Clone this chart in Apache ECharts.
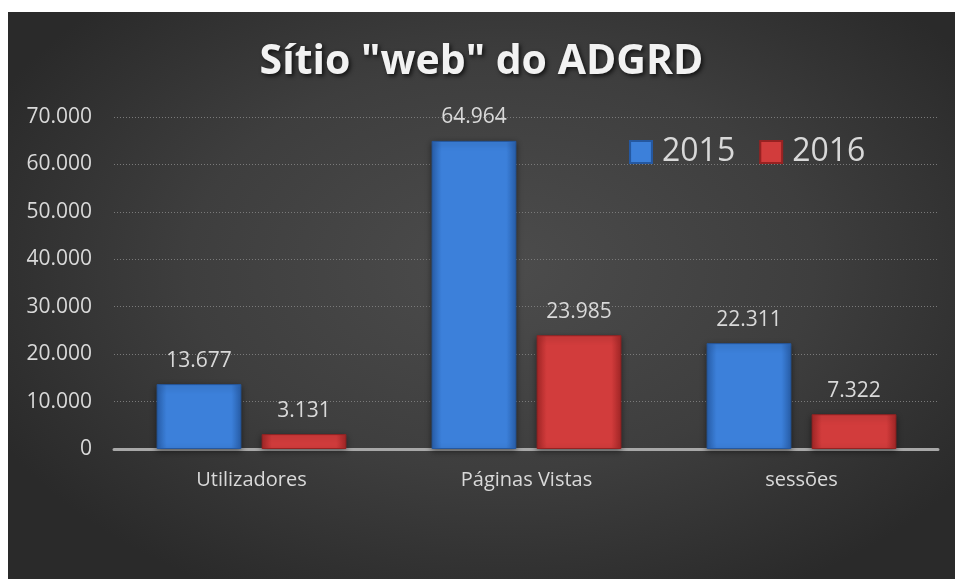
<!DOCTYPE html>
<html>
<head>
<meta charset="utf-8">
<script src="https://cdn.jsdelivr.net/npm/echarts@6/dist/echarts.min.js"></script>
<style>
  html, body { margin: 0; padding: 0; background: #ffffff; }
  #chart {
    position: absolute; left: 8px; top: 12px; width: 947px; height: 567px;
    background: radial-gradient(ellipse 60% 65% at 52% 45%, #4c4c4c 0%, #3e3e3e 55%, #2a2a2a 100%);
  }
</style>
</head>
<body>
<div id="chart"></div>
<script>
var categories = ['Utilizadores', 'Páginas Vistas', 'sessões'];
var values2015 = [13677, 64964, 22311];
var values2016 = [3131, 23985, 7322];
var seriesNames = ['2015', '2016'];

function fmt(v) {
  return String(v).replace(/\B(?=(\d{3})+(?!\d))/g, '.');
}

var font = '"Open Sans", sans-serif';

function barStyle(edge, mid, border) {
  return {
    color: new echarts.graphic.LinearGradient(0, 0, 1, 0, [
      { offset: 0, color: edge },
      { offset: 0.12, color: mid },
      { offset: 0.88, color: mid },
      { offset: 1, color: edge }
    ]),
    borderColor: border,
    borderWidth: 1,
    shadowBlur: 6,
    shadowColor: 'rgba(0,0,0,0.45)',
    shadowOffsetY: 2
  };
}

var dom = document.getElementById('chart');
var myChart = echarts.init(dom, null, { renderer: 'canvas' });

var labelStyle = {
  show: true,
  position: 'top',
  distance: 13,
  color: '#d9d9d9',
  fontFamily: font,
  fontSize: 21,
  formatter: function (p) { return fmt(p.value); }
};

var option = {
  animation: false,
  textStyle: { fontFamily: font },
  title: {
    text: 'Sítio "web" do ADGRD',
    left: 'center',
    top: 25,
    textStyle: {
      color: '#f2f2f2',
      fontFamily: font,
      fontWeight: 'bold',
      fontSize: 41,
      textShadowColor: 'rgba(0,0,0,0.7)',
      textShadowBlur: 4,
      textShadowOffsetX: 2,
      textShadowOffsetY: 2
    }
  },
  legend: {
    data: seriesNames,
    left: 616,
    top: 119,
    itemWidth: 22,
    itemHeight: 22,
    itemGap: 24,
    icon: 'rect',
    textStyle: { color: '#d9d9d9', fontFamily: font, fontSize: 32, padding: [0, 0, 0, 5] }
  },
  grid: { left: 106, right: 16, top: 105, bottom: 130 },
  xAxis: {
    type: 'category',
    data: categories,
    axisTick: { show: false },
    axisLine: { lineStyle: { color: '#a8a8a8', width: 3, type: [2, 1] } },
    axisLabel: { color: '#d9d9d9', fontFamily: font, fontSize: 20, margin: 21 }
  },
  yAxis: {
    type: 'value',
    min: 0,
    max: 70000,
    interval: 10000,
    axisLine: { show: false },
    axisTick: { show: false },
    axisLabel: {
      color: '#d9d9d9', fontFamily: font, fontSize: 21, margin: 22,
      formatter: function (v) { return fmt(v); }
    },
    splitLine: { lineStyle: { color: '#7a7a7a', width: 1, type: [1, 2] } }
  },
  series: [
    {
      name: seriesNames[0],
      type: 'bar',
      data: values2015,
      barGap: '24%',
      barCategoryGap: '31%',
      itemStyle: barStyle('#2a62b0', '#3c80da', '#2558a0'),
      label: labelStyle
    },
    {
      name: seriesNames[1],
      type: 'bar',
      data: values2016,
      itemStyle: barStyle('#a82828', '#d23c3c', '#962222'),
      label: labelStyle
    }
  ]
};

myChart.setOption(option);
window.addEventListener('resize', myChart.resize);
</script>
</body>
</html>
